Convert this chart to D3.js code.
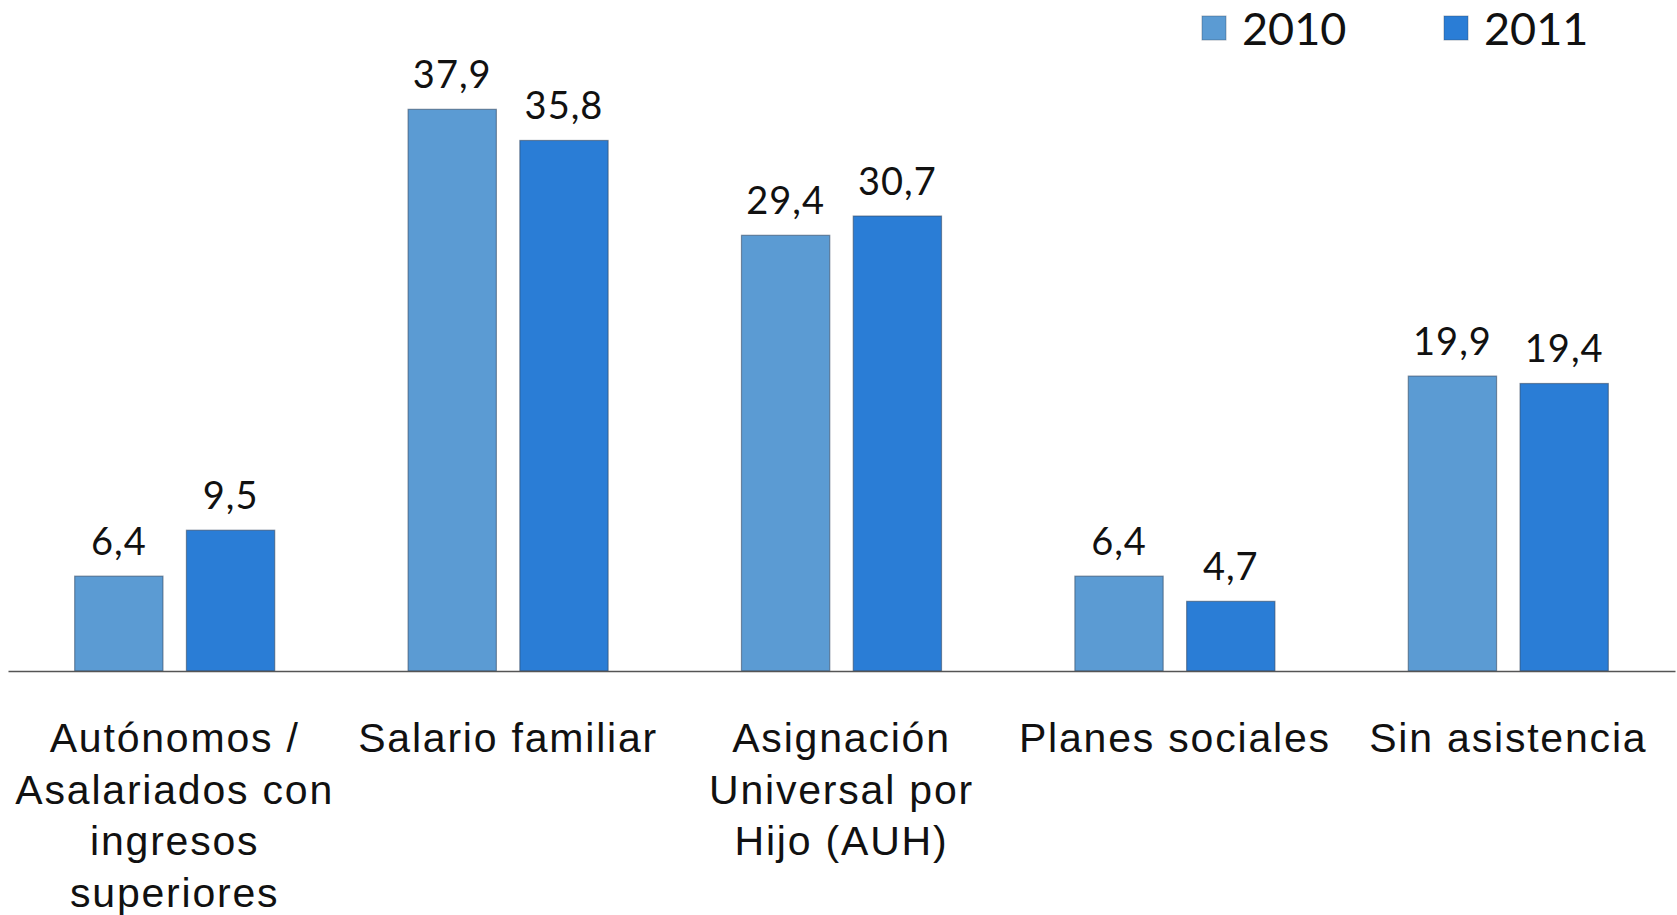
<!DOCTYPE html>
<html>
<head>
<meta charset="utf-8">
<script src="https://cdn.jsdelivr.net/npm/d3@7"></script>
<style>
	body { margin: 0; background: #fff; }
	svg { display: block; font-family: Lato, "Open Sans", sans-serif; }
	.label--value { font-size: 38px; fill: #111; letter-spacing: 1px; }
	.label--cat { font-size: 41px; fill: #111; letter-spacing: 1.8px; }
	.legend text { font-size: 45px; fill: #111; }
</style>
</head>
<body>
<svg id="chart"></svg>
<script>
(function() {

	// DATA
	var categories = [
		'Autónomos /\nAsalariados con\ningresos\nsuperiores',
		'Salario familiar',
		'Asignación\nUniversal por\nHijo (AUH)',
		'Planes sociales',
		'Sin asistencia'
	];
	var series = ['2010', '2011'];
	var values2010 = [6.4, 37.9, 29.4, 6.4, 19.9];
	var values2011 = [9.5, 35.8, 30.7, 4.7, 19.4];

	var colors = { '2010': '#5b9bd3', '2011': '#2a7dd6' };

	// VARS
	var width = 1677;
	var height = 915;
	var baseline = 671;

	var svg = d3.select('#chart')
		.attr('width', width)
		.attr('height', height);

	var rows = categories.map(function(c, i) {
		return { cat: c, '2010': values2010[i], '2011': values2011[i] };
	});

	// SCALES
	var x0 = d3.scaleBand()
		.domain(categories)
		.range([8, 1675])
		.paddingInner(0.4)
		.paddingOuter(0.2);

	var x1 = d3.scaleBand()
		.domain(series)
		.range([0, x0.bandwidth()])
		.paddingInner(0.21);

	var y = d3.scaleLinear()
		.domain([0, 40])
		.range([baseline, baseline - 40 * 14.82]);

	// BARS
	var groups = svg.append('g').attr('class', 'bars')
		.selectAll('g')
		.data(rows)
		.enter().append('g')
		.attr('transform', function(d) { return 'translate(' + x0(d.cat) + ',0)'; });

	var cells = groups.selectAll('g')
		.data(function(d) { return series.map(function(s) { return { key: s, value: d[s] }; }); })
		.enter().append('g');

	cells.append('rect')
		.attr('x', function(d) { return x1(d.key); })
		.attr('y', function(d) { return y(d.value); })
		.attr('width', x1.bandwidth())
		.attr('height', function(d) { return y(0) - y(d.value); })
		.style('fill', function(d) { return colors[d.key]; })
		.style('stroke', 'rgba(50,70,95,0.55)')
		.style('stroke-width', 1.2);

	cells.append('text')
		.attr('class', 'label--value')
		.attr('text-anchor', 'middle')
		.attr('x', function(d) { return x1(d.key) + x1.bandwidth() / 2; })
		.attr('y', function(d) { return y(d.value) - 21; })
		.text(function(d) { return d3.format('.1f')(d.value).replace('.', ','); });

	// AXIS
	var axis = svg.append('g')
		.attr('transform', 'translate(0,' + baseline + ')')
		.call(d3.axisBottom(x0).tickSize(0).tickFormat(''));
	axis.select('.domain')
		.attr('stroke', '#555')
		.attr('stroke-width', 1.5);

	// CATEGORY LABELS
	axis.selectAll('.tick').each(function(c) {
		var t = d3.select(this).append('text')
			.attr('class', 'label--cat')
			.attr('text-anchor', 'middle')
			.attr('y', 81);
		c.split('\n').forEach(function(line, i) {
			t.append('tspan')
				.attr('x', 0)
				.attr('dy', i === 0 ? 0 : 51.5)
				.text(line);
		});
	});

	// LEGEND
	var legendX = d3.scaleOrdinal().domain(series).range([1202, 1444]);
	var legend = svg.append('g').attr('class', 'legend')
		.selectAll('g')
		.data(series)
		.enter().append('g')
		.attr('transform', function(d) { return 'translate(' + legendX(d) + ',0)'; });

	legend.append('rect')
		.attr('y', 16)
		.attr('width', 24)
		.attr('height', 24)
		.style('fill', function(d) { return colors[d]; })
		.style('stroke', 'rgba(50,70,95,0.4)');

	legend.append('text')
		.attr('x', 40)
		.attr('y', 45)
		.text(function(d) { return d; });

})();
</script>
</body>
</html>
